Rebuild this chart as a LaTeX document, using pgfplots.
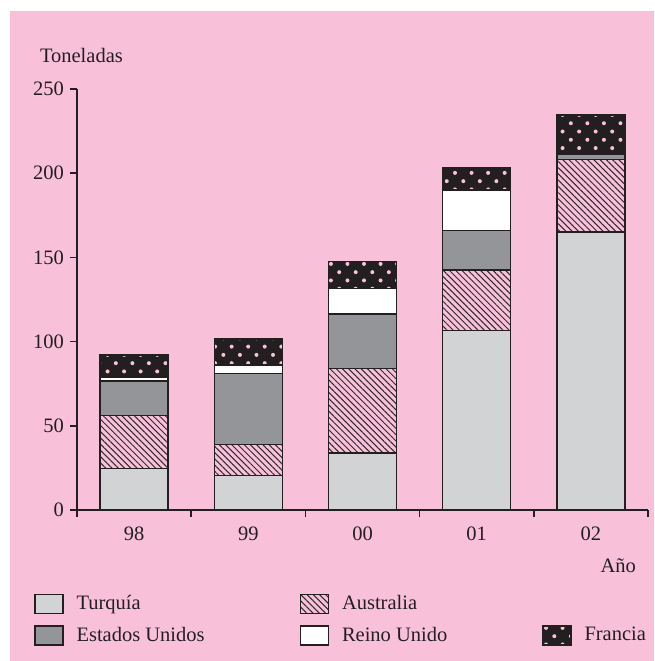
\documentclass[border=0pt]{standalone}
\usepackage{pgfplots}
\usepackage{pgfplotstable}
\pgfplotsset{compat=1.18}
\usetikzlibrary{patterns.meta}
\usepackage{fontspec}
\setmainfont{Liberation Serif}
\definecolor{bgpink}{HTML}{F8C1D9}
\definecolor{tur}{HTML}{D1D3D4}
\definecolor{eeuu}{HTML}{939598}
\definecolor{dk}{HTML}{231F20}
\definecolor{patline}{HTML}{2E292B}

\pgfplotstableread{
x tur aus eeuu ru fra
0 24.5 31.5 20.5 2.5 13
1 20.5 18.5 42 5 15.5
2 34 50 32.5 15 16
3 106.5 36 23.5 24 13
4 165 43 3 0 23.5
}\data

\tikzset{
  ausstyle/.style={fill=bgpink, postaction={pattern={Lines[angle=-45,distance=4.4pt,line width=1pt]}, pattern color=patline}},
  frastyle/.style={fill=dk, postaction={pattern={Dots[radius=2pt,distance=11.7pt,angle=45]}, pattern color=bgpink}},
}

\begin{document}
\fontsize{20.5}{24}\selectfont
\begin{tikzpicture}
\useasboundingbox (0,0) rectangle (654pt,-661pt);
\fill[bgpink] (10pt,-11pt) rectangle (654pt,-661pt);
\begin{axis}[
  at={(77pt,-510pt)}, anchor=south west,
  scale only axis, width=571pt, height=421pt,
  ybar stacked, bar width=68pt,
  xmin=-0.5, xmax=4.5, ymin=0, ymax=250,
  axis lines=left,
  axis line style={-, dk, line width=1.6pt},
  xtick={-0.5,0.5,1.5,2.5,3.5,4.5},
  x tick label as interval,
  xticklabels={98,99,00,01,02},
  ytick={0,50,100,150,200,250},
  tick align=outside,
  major tick length=7pt,
  tick style={dk, line width=1.6pt},
  /pgf/number format/assume math mode=true,
  ticklabel style={font=\fontsize{20.5}{24}\selectfont, text=dk},
  xticklabel style={inner sep=0pt, anchor=north, yshift=-10pt},
  yticklabel style={inner sep=0pt, anchor=east, xshift=-6pt},
  every axis y label/.style={at={(axis description cs:-0.0771,1.0640)}, anchor=base west, text=dk},
  ylabel={Toneladas},
  every axis x label/.style={at={(axis description cs:0.9912,-0.1473)}, anchor=base east, text=dk},
  xlabel={Año},
  legend columns=3,
  legend cell align=left,
  legend style={draw=none, fill=none, inner sep=0pt, outer sep=0pt,
    column sep=0pt, row sep=11pt, nodes={inner sep=0pt, outer sep=0pt, text=dk},
    at={(axis description cs:-0.0753,-0.1995)}, anchor=north west},
  every axis plot/.append style={draw=dk, line width=1.5pt},
]
\addplot[fill=tur, draw=dk, forget plot] table[x=x,y=tur]{\data};
\addplot[ausstyle, draw=dk, forget plot] table[x=x,y=aus]{\data};
\addplot[fill=eeuu, draw=dk, forget plot] table[x=x,y=eeuu]{\data};
\addplot[fill=white, draw=dk, forget plot] table[x=x,y=ru]{\data};
\addplot[frastyle, draw=dk, forget plot] table[x=x,y=fra]{\data};

\addlegendimage{legend image code/.code={\draw[dk, line width=1.5pt, fill=tur] (0pt,-9.5pt) rectangle (28pt,9.5pt); \path (41pt,0pt);}}
\addlegendentry{\makebox[223pt][l]{Turquía}}
\addlegendimage{legend image code/.code={\draw[dk, line width=1.5pt, ausstyle] (0pt,-9.5pt) rectangle (28pt,9.5pt); \path (41pt,0pt);}}
\addlegendentry{\makebox[200pt][l]{Australia}}
\addlegendimage{empty legend}
\addlegendentry{}
\addlegendimage{legend image code/.code={\draw[dk, line width=1.5pt, fill=eeuu] (0pt,-9.5pt) rectangle (28pt,9.5pt); \path (41pt,0pt);}}
\addlegendentry{\makebox[223pt][l]{Estados Unidos}}
\addlegendimage{legend image code/.code={\draw[dk, line width=1.5pt, fill=white] (0pt,-9.5pt) rectangle (28pt,9.5pt); \path (41pt,0pt);}}
\addlegendentry{\makebox[200pt][l]{Reino Unido}}
\addlegendimage{legend image code/.code={\draw[dk, line width=1.5pt, frastyle] (0pt,-9.5pt) rectangle (28pt,9.5pt); \path (41pt,0pt);}}
\addlegendentry{Francia}
\end{axis}
\end{tikzpicture}
\end{document}
